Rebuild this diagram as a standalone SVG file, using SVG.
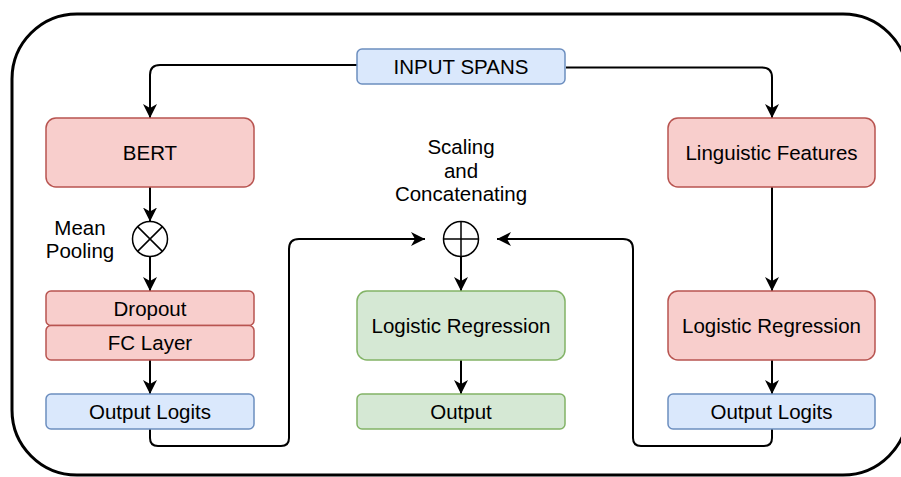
<svg xmlns="http://www.w3.org/2000/svg" width="901" height="477" viewBox="0 0 901 477">
<defs>
<marker id="arr" viewBox="0 0 14 14" refX="14" refY="7" markerWidth="14" markerHeight="14" markerUnits="userSpaceOnUse" orient="auto">
<path d="M0,0 L14,7 L0,14 L4,7 Z" fill="#000"/>
</marker>
</defs>
<style>
text{font-family:"Liberation Sans",Arial,Helvetica,sans-serif;font-size:20.5px;fill:#000;text-anchor:middle}
.red{fill:#f8cecc;stroke:#b85450;stroke-width:1.5}
.blue{fill:#dae8fc;stroke:#6c8ebf;stroke-width:1.5}
.green{fill:#d5e8d4;stroke:#82b366;stroke-width:1.5}
.edge{fill:none;stroke:#000;stroke-width:2}
.op{fill:#fff;stroke:#000;stroke-width:1.5}
</style>
<rect x="12" y="14" width="896" height="461" rx="65" fill="none" stroke="#000" stroke-width="3"/>
<g id="connectors">
<path class="edge" d="M357,65 L160,65 Q150,65 150,75 L150,118" marker-end="url(#arr)"/>
<path class="edge" d="M566,67.5 L762,67.5 Q772,67.5 772,77.5 L772,118" marker-end="url(#arr)"/>
<path class="edge" d="M150,187 L150,221.5" marker-end="url(#arr)"/>
<path class="edge" d="M150,256.5 L150,291" marker-end="url(#arr)"/>
<path class="edge" d="M150,360 L150,394" marker-end="url(#arr)"/>
<path class="edge" d="M150,429 L150,438 Q150,446 158,446 L281,446 Q289,446 289,438 L289,249 Q289,239 299,239 L425,239" marker-end="url(#arr)"/>
<path class="edge" d="M772,429 L772,438 Q772,446 764,446 L641,446 Q633,446 633,438 L633,249 Q633,239 623,239 L497,239" marker-end="url(#arr)"/>
<path class="edge" d="M461,257 L461,291" marker-end="url(#arr)"/>
<path class="edge" d="M461,360 L461,394" marker-end="url(#arr)"/>
<path class="edge" d="M772,187 L772,291" marker-end="url(#arr)"/>
<path class="edge" d="M772,360 L772,394" marker-end="url(#arr)"/>
</g>
<g id="input-spans"><rect class="blue" x="357" y="49" width="208" height="35" rx="5"/><text x="461" y="74">INPUT SPANS</text></g>
<g id="bert"><rect class="red" x="46" y="118" width="208" height="69" rx="10"/><text x="150" y="160">BERT</text></g>
<g id="ling"><rect class="red" x="668" y="118" width="207" height="69" rx="10"/><text x="771.5" y="160">Linguistic Features</text></g>
<g id="mean-pooling"><circle class="op" cx="150" cy="239" r="17.5"/><path d="M137.6,226.6 L162.4,251.4 M162.4,226.6 L137.6,251.4" stroke="#000" stroke-width="1.5"/><text x="80" y="235">Mean</text><text x="80" y="258">Pooling</text></g>
<g id="concat"><circle class="op" cx="461" cy="239" r="17.5"/><path d="M443.5,239 L478.5,239 M461,221.5 L461,256.5" stroke="#000" stroke-width="1.5"/><text x="461" y="154">Scaling</text><text x="461" y="178">and</text><text x="461" y="201">Concatenating</text></g>
<g id="dropout"><rect class="red" x="46" y="291" width="208" height="34.5" rx="5"/><text x="150" y="316">Dropout</text></g>
<g id="fc"><rect class="red" x="46" y="325.5" width="208" height="34.5" rx="5"/><text x="150" y="350">FC Layer</text></g>
<g id="out-logits-left"><rect class="blue" x="46" y="394" width="208" height="35" rx="5"/><text x="150" y="419">Output Logits</text></g>
<g id="lr-green"><rect class="green" x="357" y="291" width="208" height="69" rx="10"/><text x="461" y="333">Logistic Regression</text></g>
<g id="output"><rect class="green" x="357" y="394" width="208" height="35" rx="5"/><text x="461" y="419">Output</text></g>
<g id="lr-red"><rect class="red" x="668" y="291" width="207" height="69" rx="10"/><text x="771.5" y="333">Logistic Regression</text></g>
<g id="out-logits-right"><rect class="blue" x="668" y="394" width="207" height="35" rx="5"/><text x="771.5" y="419">Output Logits</text></g>
</svg>
